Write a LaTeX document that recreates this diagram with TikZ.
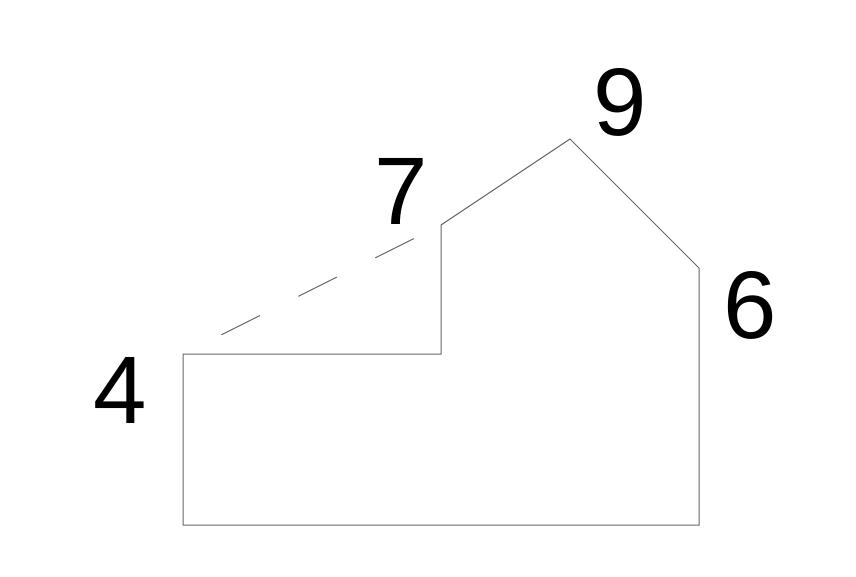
\documentclass[tikz,border=0pt]{standalone}
\usepackage{fontspec}
\setmainfont{Liberation Sans}
\usetikzlibrary{calc}
\tikzset{
  outline/.style={draw=black!60, line width=1pt},
  numlabel/.style={inner sep=0pt, anchor=center, font=\fontsize{96}{100}\selectfont}
}

\begin{document}
\begin{tikzpicture}[x=1pt, y=-1pt]
\useasboundingbox (0,0) rectangle (856,577);
\coordinate (A) at (183,525);
\coordinate (B) at (183,354);
\coordinate (C) at (441,354);
\coordinate (D) at (441,225);
\coordinate (E) at (570,139);
\coordinate (F) at (699,268);
\coordinate (G) at (699,525);
\draw[outline] (A) -- (B) -- (C) -- (D) -- (E) -- (F) -- (G) -- cycle;
\draw[outline, dash pattern=on 43pt off 43pt, dash phase=43pt] (B) -- (D);
\node[numlabel] (four) at (120,390) {4};
\node[numlabel] (seven) at (401,191) {7};
\node[numlabel] (nine) at (620,102) {9};
\node[numlabel] (six) at (750,305) {6};
\end{tikzpicture}
\end{document}
